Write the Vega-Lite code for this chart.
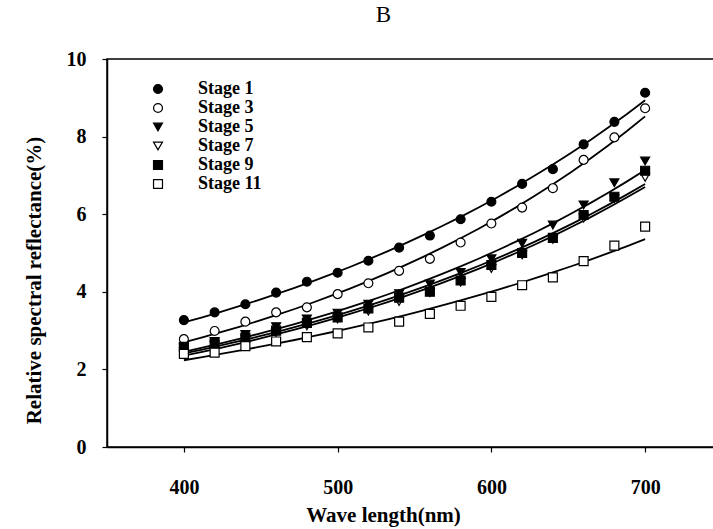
{
  "$schema": "https://vega.github.io/schema/vega-lite/v6.json",
  "autosize": "none",
  "width": 615,
  "height": 388,
  "padding": {"left": 107, "top": 59, "right": 0, "bottom": 82},
  "background": "white",
  "title": {
    "text": "B",
    "font": "Liberation Serif",
    "fontSize": 23,
    "fontWeight": "normal",
    "color": "black",
    "anchor": "middle",
    "frame": "group",
    "dx": -31,
    "offset": 22
  },
  "config": {
    "view": {"stroke": "black", "strokeWidth": 1.5},
    "axis": {
      "grid": false,
      "domainColor": "black",
      "domainWidth": 1.5,
      "tickColor": "black",
      "tickWidth": 1.2,
      "tickSize": 5,
      "labelFont": "Liberation Serif",
      "labelFontWeight": "bold",
      "labelFontSize": 20,
      "labelColor": "black",
      "titleFont": "Liberation Serif",
      "titleFontWeight": "bold",
      "titleFontSize": 21,
      "titleColor": "black"
    },
    "legend": {
      "title": null,
      "orient": "none",
      "legendX": 42,
      "legendY": 21,
      "padding": 0,
      "labelFont": "Liberation Serif",
      "labelFontWeight": "bold",
      "labelFontSize": 18,
      "labelColor": "black",
      "labelOffset": 31,
      "rowPadding": 1,
      "symbolSize": 80,
      "symbolStrokeColor": "black",
      "symbolStrokeWidth": 1.2
    }
  },
  "data": {
    "values": [
      {"stage": "Stage 1", "wl": 400, "r": 3.27}, {"stage": "Stage 1", "wl": 420, "r": 3.47},
      {"stage": "Stage 1", "wl": 440, "r": 3.68}, {"stage": "Stage 1", "wl": 460, "r": 3.98},
      {"stage": "Stage 1", "wl": 480, "r": 4.26}, {"stage": "Stage 1", "wl": 500, "r": 4.49},
      {"stage": "Stage 1", "wl": 520, "r": 4.8}, {"stage": "Stage 1", "wl": 540, "r": 5.14},
      {"stage": "Stage 1", "wl": 560, "r": 5.45}, {"stage": "Stage 1", "wl": 580, "r": 5.87},
      {"stage": "Stage 1", "wl": 600, "r": 6.32}, {"stage": "Stage 1", "wl": 620, "r": 6.78},
      {"stage": "Stage 1", "wl": 640, "r": 7.16}, {"stage": "Stage 1", "wl": 660, "r": 7.8},
      {"stage": "Stage 1", "wl": 680, "r": 8.38}, {"stage": "Stage 1", "wl": 700, "r": 9.13},

      {"stage": "Stage 3", "wl": 400, "r": 2.78}, {"stage": "Stage 3", "wl": 420, "r": 2.99},
      {"stage": "Stage 3", "wl": 440, "r": 3.23}, {"stage": "Stage 3", "wl": 460, "r": 3.47},
      {"stage": "Stage 3", "wl": 480, "r": 3.6}, {"stage": "Stage 3", "wl": 500, "r": 3.94},
      {"stage": "Stage 3", "wl": 520, "r": 4.22}, {"stage": "Stage 3", "wl": 540, "r": 4.54},
      {"stage": "Stage 3", "wl": 560, "r": 4.85}, {"stage": "Stage 3", "wl": 580, "r": 5.27},
      {"stage": "Stage 3", "wl": 600, "r": 5.76}, {"stage": "Stage 3", "wl": 620, "r": 6.17},
      {"stage": "Stage 3", "wl": 640, "r": 6.67}, {"stage": "Stage 3", "wl": 660, "r": 7.4},
      {"stage": "Stage 3", "wl": 680, "r": 7.98}, {"stage": "Stage 3", "wl": 700, "r": 8.73},

      {"stage": "Stage 5", "wl": 400, "r": 2.55}, {"stage": "Stage 5", "wl": 420, "r": 2.72},
      {"stage": "Stage 5", "wl": 440, "r": 2.9}, {"stage": "Stage 5", "wl": 460, "r": 3.1},
      {"stage": "Stage 5", "wl": 480, "r": 3.3}, {"stage": "Stage 5", "wl": 500, "r": 3.45},
      {"stage": "Stage 5", "wl": 520, "r": 3.68}, {"stage": "Stage 5", "wl": 540, "r": 3.95},
      {"stage": "Stage 5", "wl": 560, "r": 4.2}, {"stage": "Stage 5", "wl": 580, "r": 4.5},
      {"stage": "Stage 5", "wl": 600, "r": 4.85}, {"stage": "Stage 5", "wl": 620, "r": 5.25},
      {"stage": "Stage 5", "wl": 640, "r": 5.72}, {"stage": "Stage 5", "wl": 660, "r": 6.24},
      {"stage": "Stage 5", "wl": 680, "r": 6.81}, {"stage": "Stage 5", "wl": 700, "r": 7.37},

      {"stage": "Stage 7", "wl": 400, "r": 2.45}, {"stage": "Stage 7", "wl": 420, "r": 2.62},
      {"stage": "Stage 7", "wl": 440, "r": 2.78}, {"stage": "Stage 7", "wl": 460, "r": 2.95},
      {"stage": "Stage 7", "wl": 480, "r": 3.12}, {"stage": "Stage 7", "wl": 500, "r": 3.3},
      {"stage": "Stage 7", "wl": 520, "r": 3.5}, {"stage": "Stage 7", "wl": 540, "r": 3.75},
      {"stage": "Stage 7", "wl": 560, "r": 3.98}, {"stage": "Stage 7", "wl": 580, "r": 4.25},
      {"stage": "Stage 7", "wl": 600, "r": 4.6}, {"stage": "Stage 7", "wl": 620, "r": 4.95},
      {"stage": "Stage 7", "wl": 640, "r": 5.35}, {"stage": "Stage 7", "wl": 660, "r": 5.9},
      {"stage": "Stage 7", "wl": 680, "r": 6.4}, {"stage": "Stage 7", "wl": 700, "r": 6.95},

      {"stage": "Stage 9", "wl": 400, "r": 2.58}, {"stage": "Stage 9", "wl": 420, "r": 2.67},
      {"stage": "Stage 9", "wl": 440, "r": 2.82}, {"stage": "Stage 9", "wl": 460, "r": 3.0},
      {"stage": "Stage 9", "wl": 480, "r": 3.2}, {"stage": "Stage 9", "wl": 500, "r": 3.34},
      {"stage": "Stage 9", "wl": 520, "r": 3.57}, {"stage": "Stage 9", "wl": 540, "r": 3.85},
      {"stage": "Stage 9", "wl": 560, "r": 4.0}, {"stage": "Stage 9", "wl": 580, "r": 4.29},
      {"stage": "Stage 9", "wl": 600, "r": 4.69}, {"stage": "Stage 9", "wl": 620, "r": 5.0},
      {"stage": "Stage 9", "wl": 640, "r": 5.39}, {"stage": "Stage 9", "wl": 660, "r": 5.98},
      {"stage": "Stage 9", "wl": 680, "r": 6.45}, {"stage": "Stage 9", "wl": 700, "r": 7.12},

      {"stage": "Stage 11", "wl": 400, "r": 2.4}, {"stage": "Stage 11", "wl": 420, "r": 2.43},
      {"stage": "Stage 11", "wl": 440, "r": 2.6}, {"stage": "Stage 11", "wl": 460, "r": 2.72},
      {"stage": "Stage 11", "wl": 480, "r": 2.83}, {"stage": "Stage 11", "wl": 500, "r": 2.93},
      {"stage": "Stage 11", "wl": 520, "r": 3.08}, {"stage": "Stage 11", "wl": 540, "r": 3.23},
      {"stage": "Stage 11", "wl": 560, "r": 3.43}, {"stage": "Stage 11", "wl": 580, "r": 3.64},
      {"stage": "Stage 11", "wl": 600, "r": 3.87}, {"stage": "Stage 11", "wl": 620, "r": 4.17},
      {"stage": "Stage 11", "wl": 640, "r": 4.37}, {"stage": "Stage 11", "wl": 660, "r": 4.79},
      {"stage": "Stage 11", "wl": 680, "r": 5.19}, {"stage": "Stage 11", "wl": 700, "r": 5.68}
    ]
  },
  "encoding": {
    "x": {
      "field": "wl",
      "type": "quantitative",
      "scale": {"domain": [350, 750], "nice": false},
      "axis": {
        "title": "Wave length(nm)",
        "values": [400, 500, 600, 700],
        "labelPadding": 25,
        "titlePadding": 7,
        "titleX": 276,
        "titleAnchor": "start",
        "titleAlign": "center"
      }
    },
    "y": {
      "field": "r",
      "type": "quantitative",
      "scale": {"domain": [0, 10], "nice": false},
      "axis": {
        "title": "Relative spectral reflectance(%)",
        "values": [0, 2, 4, 6, 8, 10],
        "labelPadding": 16,
        "titlePadding": 22,
        "titleY": 221,
        "titleAnchor": "start",
        "titleAlign": "center"
      }
    }
  },
  "layer": [
    {
      "transform": [
        {"regression": "r", "on": "wl", "groupby": ["stage"], "method": "exp", "extent": [400, 700]}
      ],
      "mark": {"type": "line", "color": "black", "strokeWidth": 1.8},
      "encoding": {"detail": {"field": "stage"}}
    },
    {
      "mark": {"type": "point", "size": 80, "strokeWidth": 1.2, "opacity": 1},
      "encoding": {
        "shape": {
          "field": "stage",
          "type": "nominal",
          "scale": {
            "domain": ["Stage 1", "Stage 3", "Stage 5", "Stage 7", "Stage 9", "Stage 11"],
            "range": ["circle", "circle", "triangle-down", "triangle-down", "square", "square"]
          }
        },
        "fill": {
          "field": "stage",
          "type": "nominal",
          "scale": {
            "domain": ["Stage 1", "Stage 3", "Stage 5", "Stage 7", "Stage 9", "Stage 11"],
            "range": ["black", "white", "black", "white", "black", "white"]
          }
        },
        "stroke": {
          "field": "stage",
          "type": "nominal",
          "scale": {
            "domain": ["Stage 1", "Stage 3", "Stage 5", "Stage 7", "Stage 9", "Stage 11"],
            "range": ["black", "black", "black", "black", "black", "black"]
          }
        }
      }
    }
  ]
}
